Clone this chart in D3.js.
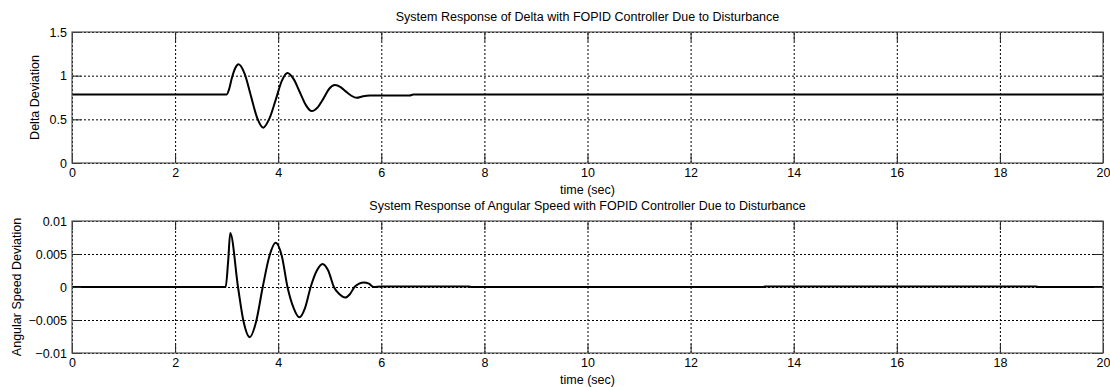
<!DOCTYPE html>
<meta charset="utf-8">
<style>
    body { margin: 0; background: #fff; }
    text { font-family: "Liberation Sans", Arial, sans-serif; font-size: 12.5px; fill: #000; }
    .grid line { stroke: #000; stroke-width: 1; stroke-dasharray: 2,2; }
    .grid path { display: none; }
    .ax path { display: none; }
    .ax line { stroke: #222; }
    .box { fill: none; stroke: #555; stroke-width: 1.2; }
    .sig { fill: none; stroke: #000; stroke-width: 2; }
</style>
<svg id="svg" width="1110" height="387"></svg>
<script src="https://d3js.org/d3.v7.min.js"></script>
<script>

    // shared time axis
    var xTicks = [0, 2, 4, 6, 8, 10, 12, 14, 16, 18, 20];

    // delta deviation
    var deltaTime  = [0, 3.00, 3.05, 3.10, 3.17, 3.23, 3.35, 3.47, 3.59, 3.71, 3.83, 3.95, 4.07, 4.18, 4.30, 4.42, 4.54, 4.65,
                      4.77, 4.88, 4.99, 5.10, 5.21, 5.31, 5.42, 5.52, 5.65, 5.78, 6.55, 6.62, 20];
    var deltaValue = [0.785, 0.785, 0.85, 0.97, 1.09, 1.13, 1.02, 0.77, 0.52, 0.405, 0.51, 0.72, 0.94, 1.03, 0.96, 0.81, 0.66, 0.594,
                      0.64, 0.74, 0.85, 0.892, 0.87, 0.82, 0.77, 0.746, 0.765, 0.772, 0.772, 0.785, 0.785];
    var deltaTicks = [0, 0.5, 1, 1.5];

    // angular speed deviation
    var speedTime  = [0, 2.98, 3.03, 3.07, 3.22, 3.33, 3.45, 3.57, 3.70, 3.83, 3.95, 4.07, 4.18, 4.30, 4.41, 4.52, 4.63,
                      4.75, 4.86, 4.97, 5.08, 5.19, 5.30, 5.39, 5.48, 5.57, 5.66, 5.76, 5.85, 6.0, 7.7, 7.75, 13.4, 13.45, 18.7, 18.75, 20];
    var speedValue = [0, 0, 0.004, 0.0082, 0, -0.0053, -0.0076, -0.0053, 0, 0.0047, 0.0067, 0.0047, 0, -0.0032, -0.0046, -0.0032, 0,
                      0.0025, 0.0035, 0.0025, 0, -0.0011, -0.0016, -0.0011, 0, 0.0005, 0.0007, 0.0005, 0, 0.00008, 0.00008, 0, 0, 0.00008, 0.00008, 0, 0];
    var speedTicks = [-0.01, -0.005, 0, 0.005, 0.01];

    var svg = d3.select("svg");
    var left = 72, right = 1103;

    var x = d3.scaleLinear().domain([0, 20]).range([left, right]);

    // draws one subplot
    function panel(top, bottom, yDomain, yTicks, times, values, title, ylabel, ylabelX) {
        var y = d3.scaleLinear().domain(yDomain).range([bottom, top]);
        var g = svg.append("g");
        var h = bottom - top, w = right - left;

        // grid
        g.append("g").attr("class", "grid")
            .attr("transform", "translate(0," + bottom + ")")
            .call(d3.axisBottom(x).tickValues(xTicks).tickSize(-h).tickFormat(""));
        g.append("g").attr("class", "grid")
            .attr("transform", "translate(" + left + ",0)")
            .call(d3.axisLeft(y).tickValues(yTicks).tickSize(-w).tickFormat(""));

        // signal
        var line = d3.line()
            .x(function (d, i) { return x(times[i]); })
            .y(function (d) { return y(d); })
            .curve(d3.curveMonotoneX);
        g.append("path").attr("class", "sig").attr("d", line(values));

        // inward ticks on all four sides
        g.append("g").attr("class", "ax")
            .attr("transform", "translate(0," + bottom + ")")
            .call(d3.axisBottom(x).tickValues(xTicks).tickSize(-9).tickPadding(5));
        g.append("g").attr("class", "ax")
            .attr("transform", "translate(0," + top + ")")
            .call(d3.axisTop(x).tickValues(xTicks).tickSize(-9).tickFormat(""));
        g.append("g").attr("class", "ax")
            .attr("transform", "translate(" + left + ",0)")
            .call(d3.axisLeft(y).tickValues(yTicks).tickSize(-9).tickPadding(5).tickFormat(d3.format("")));
        g.append("g").attr("class", "ax")
            .attr("transform", "translate(" + right + ",0)")
            .call(d3.axisRight(y).tickValues(yTicks).tickSize(-9).tickFormat(""));

        g.selectAll(".ax text").style("font-size", "12.5px").style("font-family", "'Liberation Sans', Arial, sans-serif").attr("fill", "#000");

        g.append("rect").attr("class", "box")
            .attr("x", left).attr("y", top).attr("width", w).attr("height", h);

        g.append("text").attr("x", (left + right) / 2).attr("y", top - 11)
            .attr("text-anchor", "middle").text(title);
        g.append("text").attr("x", (left + right) / 2).attr("y", bottom + 31)
            .attr("text-anchor", "middle").text("time (sec)");
        g.append("text")
            .attr("transform", "translate(" + ylabelX + "," + (top + bottom) / 2 + ") rotate(-90)")
            .attr("text-anchor", "middle").text(ylabel);
    }

    panel(32, 163, [0, 1.5], deltaTicks, deltaTime, deltaValue,
        "System Response of Delta with FOPID Controller Due to Disturbance", "Delta Deviation", 39);
    panel(221, 353, [-0.01, 0.01], speedTicks, speedTime, speedValue,
        "System Response of Angular Speed with FOPID Controller Due to Disturbance", "Angular Speed Deviation", 21);

</script>
